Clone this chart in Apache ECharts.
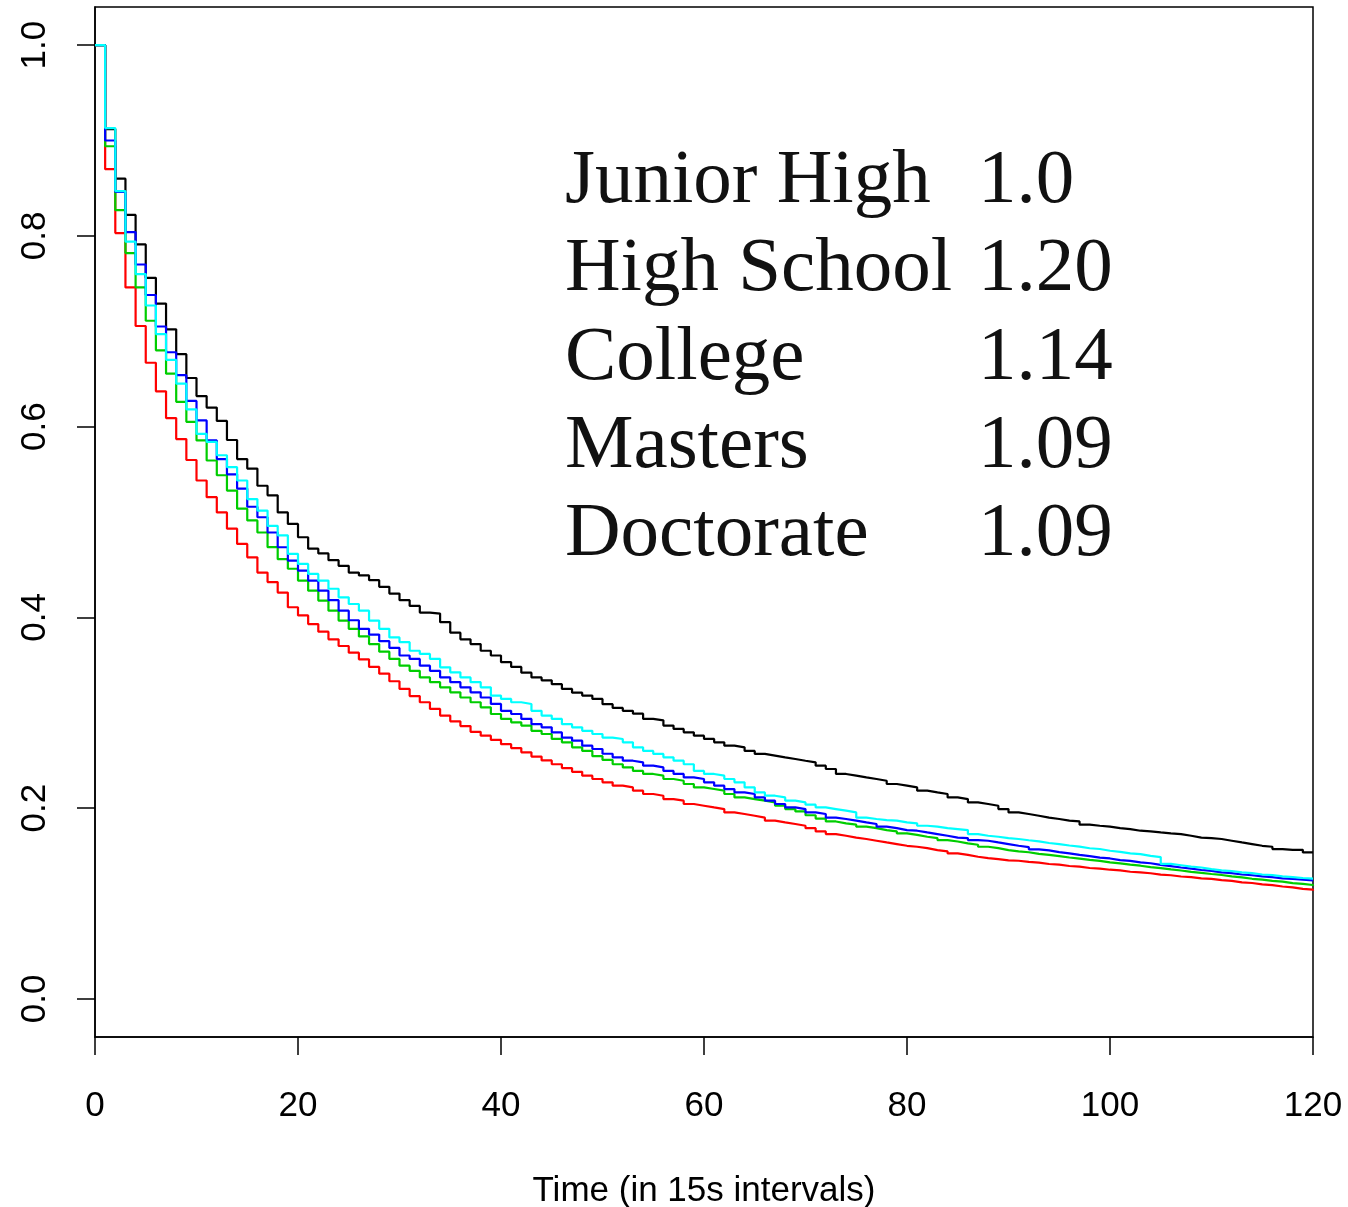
<!DOCTYPE html>
<html>
<head>
<meta charset="utf-8">
<script src="https://cdn.jsdelivr.net/npm/echarts@6.0.0/dist/echarts.min.js"></script>
<style>
html,body{margin:0;padding:0;background:#fff;}
#chart{width:1348px;height:1207px;}
</style>
</head>
<body>
<div id="chart"></div>
<script>
// Time steps (15 s intervals), 0..120
const times = Array.from({length: 121}, (_, i) => i);

// Group names and hazard ratios shown in the annotation
const groupNames = ["Junior High", "High School", "College", "Masters", "Doctorate"];
const hazardRatios = ["1.0", "1.20", "1.14", "1.09", "1.09"];
const groupColors = ["#000000", "#FF0000", "#00CD00", "#0000FF", "#00FFFF"];

// Y tick values
const yTicks = [0, 0.2, 0.4, 0.6, 0.8, 1.0];

// Survival values (value held on [t, t+1))
const juniorHigh = [
1.0,0.912,0.860,0.822,0.791,0.756,0.729,0.702,0.676,0.651,
0.632,0.620,0.606,0.586,0.566,0.556,0.538,0.528,0.510,0.498,
0.484,0.472,0.467,0.460,0.454,0.447,0.444,0.439,0.432,0.425,
0.418,0.412,0.405,0.404,0.395,0.384,0.377,0.372,0.365,0.360,
0.353,0.348,0.342,0.337,0.334,0.330,0.325,0.321,0.318,0.3145,
0.309,0.305,0.302,0.299,0.2935,0.292,0.2865,0.283,0.2795,0.276,
0.2725,0.269,0.2655,0.2637,0.260,0.2568,0.255,0.2532,0.2515,0.2497,
0.248,0.2445,0.241,0.2358,0.234,0.2322,0.2305,0.2287,0.2253,0.2235,
0.2217,0.2183,0.2165,0.2148,0.2112,0.2095,0.206,0.2043,0.2025,0.199,
0.1955,0.1938,0.192,0.190,0.1886,0.1868,0.186,0.1826,0.1815,0.1805,
0.179,0.178,0.1763,0.1756,0.1745,0.1735,0.1728,0.171,0.169,0.1686,
0.1676,0.1658,0.164,0.1623,0.1605,0.1595,0.157,0.1563,0.1563,0.1535,
0.1535];

const highSchool = [
1.0,0.870,0.803,0.746,0.7055,0.667,0.637,0.609,0.587,0.565,
0.5435,0.526,0.510,0.493,0.477,0.463,0.447,0.437,0.426,0.4106,
0.402,0.393,0.385,0.377,0.370,0.363,0.356,0.348,0.341,0.333,
0.325,0.3175,0.311,0.304,0.297,0.291,0.286,0.280,0.276,0.2715,
0.267,0.263,0.2585,0.254,0.250,0.246,0.242,0.238,0.234,0.2305,
0.227,0.2235,0.2217,0.2183,0.2148,0.213,0.2095,0.2078,0.2043,0.2025,
0.2007,0.199,0.1955,0.1938,0.192,0.190,0.1868,0.185,0.1833,0.1815,
0.179,0.1756,0.1728,0.171,0.169,0.1676,0.1658,0.164,0.1623,0.1605,
0.1595,0.158,0.156,0.1546,0.1525,0.151,0.149,0.1476,0.1466,0.1452,
0.1448,0.1436,0.1428,0.1414,0.1407,0.1393,0.1386,0.1372,0.1366,0.1354,
0.1347,0.1333,0.1326,0.1317,0.1303,0.1296,0.1283,0.1277,0.1264,0.1258,
0.1244,0.1237,0.1222,0.1215,0.1201,0.1192,0.1178,0.1169,0.1153,0.1145,
0.1133];

const college = [
1.0,0.894,0.827,0.782,0.746,0.711,0.680,0.6555,0.626,0.605,
0.5855,0.5645,0.549,0.533,0.514,0.5016,0.489,0.4736,0.461,0.451,
0.4386,0.428,0.4176,0.407,0.3966,0.388,0.380,0.372,0.364,0.3564,
0.3494,0.344,0.337,0.332,0.3267,0.3214,0.316,0.311,0.3057,0.2987,
0.2935,0.290,0.2865,0.281,0.2777,0.2725,0.269,0.2637,0.260,0.2545,
0.2505,0.246,0.2427,0.239,0.2358,0.234,0.2305,0.2287,0.2253,0.2217,
0.220,0.2183,0.2148,0.2112,0.2095,0.2078,0.206,0.2025,0.199,0.1965,
0.1925,0.189,0.186,0.184,0.1826,0.1805,0.179,0.177,0.1756,0.1735,
0.172,0.170,0.1686,0.1665,0.165,0.163,0.1616,0.1595,0.158,0.156,
0.1546,0.1537,0.1521,0.1509,0.1496,0.1482,0.1471,0.1457,0.1446,0.1431,
0.1421,0.1407,0.1396,0.1381,0.1371,0.1357,0.1346,0.1331,0.1321,0.1309,
0.1299,0.1284,0.1273,0.1259,0.1251,0.1237,0.1229,0.1214,0.1206,0.1194,
0.1186];

const masters = [
1.0,0.900,0.846,0.804,0.770,0.738,0.705,0.678,0.654,0.627,
0.6065,0.5855,0.566,0.550,0.535,0.516,0.505,0.489,0.4735,0.4596,
0.449,0.4386,0.428,0.418,0.407,0.397,0.388,0.382,0.375,0.368,
0.360,0.3564,0.3494,0.344,0.337,0.332,0.3267,0.3214,0.316,0.3092,
0.302,0.2987,0.2935,0.288,0.2847,0.2794,0.274,0.2707,0.2655,0.262,
0.257,0.2532,0.2497,0.248,0.2445,0.2427,0.239,0.2358,0.2322,0.2305,
0.227,0.2235,0.220,0.2165,0.2148,0.2112,0.2078,0.2043,0.2007,0.199,
0.1955,0.1938,0.190,0.1886,0.1868,0.185,0.1833,0.1805,0.179,0.177,
0.1763,0.1745,0.1728,0.171,0.169,0.1686,0.1665,0.1658,0.164,0.1623,
0.1605,0.1591,0.1568,0.1556,0.1538,0.1526,0.1509,0.1497,0.1481,0.1472,
0.1454,0.1446,0.1431,0.1422,0.1404,0.1391,0.1377,0.1366,0.1351,0.1342,
0.1327,0.1319,0.1304,0.1296,0.1284,0.1276,0.1264,0.1259,0.1249,0.1243,
0.1238];

const doctorate = [
1.0,0.913,0.847,0.794,0.760,0.727,0.697,0.670,0.645,0.618,
0.5925,0.584,0.570,0.5575,0.5435,0.524,0.512,0.496,0.486,0.4666,
0.456,0.4456,0.4386,0.430,0.421,0.414,0.407,0.3966,0.388,0.379,
0.374,0.365,0.3617,0.3564,0.3476,0.3424,0.337,0.332,0.3267,0.318,
0.3145,0.311,0.3092,0.302,0.297,0.2935,0.288,0.2847,0.281,0.2777,
0.274,0.2725,0.269,0.2637,0.260,0.2568,0.2532,0.2497,0.246,0.239,
0.2358,0.234,0.2305,0.227,0.2217,0.2165,0.213,0.2112,0.2078,0.206,
0.2036,0.2007,0.199,0.1973,0.1955,0.190,0.1886,0.1875,0.1868,0.185,
0.184,0.1815,0.1805,0.179,0.178,0.177,0.1728,0.171,0.170,0.1686,
0.1676,0.1663,0.1652,0.1634,0.1622,0.1608,0.1597,0.1579,0.1571,0.1553,
0.1542,0.1526,0.1517,0.1499,0.1487,0.1415,0.1401,0.1386,0.1377,0.1361,
0.1348,0.1339,0.1327,0.1319,0.1304,0.1297,0.1284,0.1276,0.1267,0.1261,
0.1256];

const seriesValues = [juniorHigh, highSchool, college, masters, doctorate];

const chart = echarts.init(document.getElementById('chart'), null, {renderer: 'canvas'});

const series = seriesValues.map((vals, k) => ({
  name: groupNames[k],
  type: 'line',
  step: 'end',
  showSymbol: false,
  symbol: 'none',
  clip: true,
  lineStyle: {color: groupColors[k], width: 2.2},
  itemStyle: {color: groupColors[k]},
  data: times.map((t, i) => [t, vals[i]])
}));

const textTops = [143, 231, 320, 408, 496];
const serifFont = '77px "Liberation Serif", "DejaVu Serif", serif';
const graphicEls = [];
groupNames.forEach((n, i) => {
  graphicEls.push({
    type: 'text', left: 565, top: textTops[i],
    style: {text: n, font: serifFont, fill: '#111'}
  });
  graphicEls.push({
    type: 'text', left: 978, top: textTops[i],
    style: {text: hazardRatios[i], font: serifFont, fill: '#111'}
  });
});

const axisFont = '"Liberation Sans", Arial, sans-serif';

chart.setOption({
  animation: false,
  backgroundColor: '#ffffff',
  grid: {left: 95, top: 7, width: 1218, height: 1030, show: true,
         borderColor: '#000', borderWidth: 1.5, backgroundColor: 'transparent',
         containLabel: false, outerBoundsMode: 'none'},
  xAxis: {
    type: 'value', min: 0, max: 120, interval: 20,
    axisLine: {show: true, onZero: false, lineStyle: {color: '#000', width: 1.5}},
    axisTick: {show: true, length: 18, lineStyle: {color: '#000', width: 1.5}},
    axisLabel: {color: '#000', fontFamily: axisFont, fontSize: 35, margin: 52,
                showMinLabel: true, showMaxLabel: true, hideOverlap: false},
    splitLine: {show: false},
    name: 'Time (in 15s intervals)', nameLocation: 'middle', nameGap: 137,
    nameTextStyle: {color: '#000', fontFamily: axisFont, fontSize: 35}
  },
  yAxis: {
    type: 'value', min: -0.04, max: 1.04,
    axisLine: {show: true, onZero: false, lineStyle: {color: '#000', width: 1.5}},
    axisTick: {show: true, length: 18, customValues: yTicks, lineStyle: {color: '#000', width: 1.5}},
    axisLabel: {color: '#000', fontFamily: axisFont, fontSize: 35, margin: 42, rotate: 90,
                customValues: yTicks, formatter: v => Number(v).toFixed(1)},
    splitLine: {show: false}
  },
  graphic: {elements: graphicEls},
  series: series
});
</script>
</body>
</html>
